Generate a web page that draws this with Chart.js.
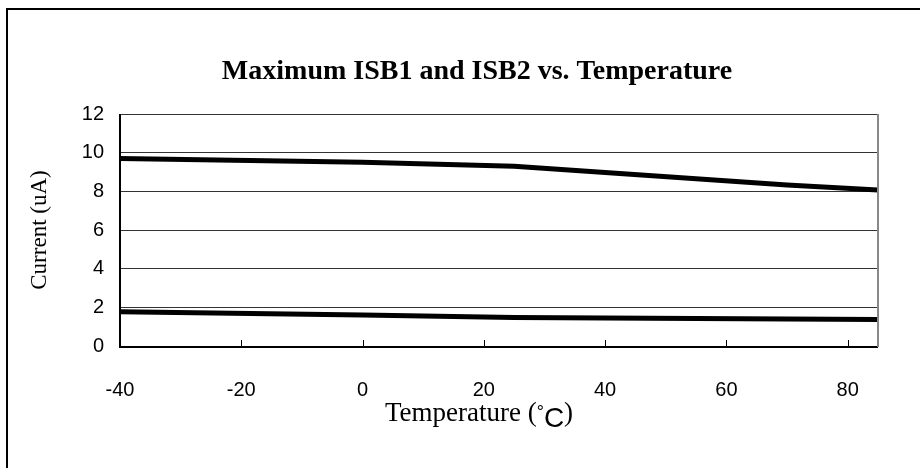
<!DOCTYPE html>
<html>
<head>
<meta charset="utf-8">
<script src="https://cdn.jsdelivr.net/npm/chart.js@4.4.1/dist/chart.umd.min.js"></script>
<style>
  html, body { margin: 0; padding: 0; background: #fff; }
  #wrap { position: relative; width: 920px; height: 468px; overflow: hidden; }
  #frame { position: absolute; left: 6px; top: 8px; width: 1000px; height: 1000px;
           border-top: 2px solid #000; border-left: 2px solid #000; box-sizing: border-box; pointer-events: none; }
  canvas { position: absolute; left: 0; top: 0; }
</style>
</head>
<body>
<div id="wrap">
  <canvas id="c" width="920" height="468"></canvas>
  <div id="frame"></div>
</div>
<script>
const titleText = "Maximum ISB1 and ISB2 vs. Temperature";
const xTitle = "Temperature (";
const yTitle = "Current (uA)";
const temps = [-40, 0, 25, 70, 85];
const isb1 = [9.7, 9.5, 9.3, 8.33, 8.07];
const isb2 = [1.77, 1.6, 1.47, 1.4, 1.37];
const xTicks = [-40, -20, 0, 20, 40, 60, 80];
const yTicks = [0, 2, 4, 6, 8, 10, 12];

const serif = "'Liberation Serif', 'Times New Roman', serif";
const sans = "'Liberation Sans', Arial, sans-serif";
const narrow = "'Liberation Sans Narrow', 'Arial Narrow', 'Liberation Sans', Arial, sans-serif";

const extras = {
  id: 'extras',
  afterDraw(chart) {
    const ctx = chart.ctx;
    const x = chart.scales.x;
    const a = chart.chartArea;
    ctx.save();
    ctx.strokeStyle = '#000';
    ctx.lineWidth = 1;
    xTicks.forEach(v => {
      const px = Math.round(x.getPixelForValue(v)) + 0.5;
      ctx.beginPath(); ctx.moveTo(px, a.bottom); ctx.lineTo(px, a.bottom - 6); ctx.stroke();
    });
    ctx.lineWidth = 2;
    ctx.beginPath(); ctx.moveTo(a.left, a.top); ctx.lineTo(a.left, a.bottom + 1); ctx.lineTo(a.right, a.bottom + 1); ctx.stroke();
    ctx.strokeStyle = '#888';
    ctx.beginPath(); ctx.moveTo(a.right, a.bottom + 1); ctx.lineTo(a.right, a.top); ctx.stroke();
    // main title
    ctx.fillStyle = '#000';
    ctx.textAlign = 'center';
    ctx.textBaseline = 'alphabetic';
    ctx.font = 'bold 28px ' + serif;
    ctx.fillText(titleText, 477, 79);
    // x title with mixed fonts
    ctx.textAlign = 'left';
    const fs = 27;
    ctx.font = fs + 'px ' + serif;
    const w1 = ctx.measureText(xTitle).width;
    ctx.font = '18px ' + sans;
    const wd = ctx.measureText('°').width;
    ctx.font = '28px ' + sans;
    const wc = ctx.measureText('C').width;
    ctx.font = fs + 'px ' + serif;
    const w2 = ctx.measureText(')').width;
    const total = w1 + wd + wc + w2;
    let sx = 479 - total / 2;
    const by = 421;
    ctx.font = fs + 'px ' + serif; ctx.fillText(xTitle, sx, by); sx += w1;
    ctx.font = '18px ' + sans; ctx.fillText('°', sx, by - 3); sx += wd;
    ctx.font = '28px ' + sans; ctx.fillText('C', sx, by + 6); sx += wc;
    ctx.font = fs + 'px ' + serif; ctx.fillText(')', sx, by);
    ctx.restore();
  }
};

new Chart(document.getElementById('c'), {
  type: 'line',
  data: {
    datasets: [
      { label: 'ISB1', data: temps.map((t, i) => ({ x: t, y: isb1[i] })), borderColor: '#000', borderWidth: 5, pointRadius: 0, tension: 0, fill: false },
      { label: 'ISB2', data: temps.map((t, i) => ({ x: t, y: isb2[i] })), borderColor: '#000', borderWidth: 5, pointRadius: 0, tension: 0, fill: false }
    ]
  },
  options: {
    responsive: false,
    animation: false,
    layout: { padding: { left: 23, right: 42, top: 114, bottom: 0 } },
    plugins: {
      legend: { display: false },
      tooltip: { enabled: false },
      title: { display: false }
    },
    scales: {
      x: {
        type: 'linear', min: -40, max: 85,
        afterBuildTicks(s) { s.ticks = xTicks.map(v => ({ value: v })); },
        afterFit(s) { s.height = 122; },
        grid: { display: false, drawTicks: false },
        border: { display: false },
        ticks: { color: '#000', font: { family: narrow, size: 20 }, padding: 32, maxRotation: 0, autoSkip: false }
      },
      y: {
        min: 0, max: 12,
        afterBuildTicks(s) { s.ticks = yTicks.map(v => ({ value: v })); },
        afterFit(s) { s.width = 97; },
        grid: { color: '#333', lineWidth: 1, drawTicks: false },
        border: { display: false },
        ticks: { color: '#000', font: { family: narrow, size: 20 }, padding: 16 },
        title: { display: true, text: yTitle, color: '#000', font: { family: serif, size: 23 }, padding: { top: 3, bottom: 0 } }
      }
    }
  },
  plugins: [extras]
});
</script>
</body>
</html>
